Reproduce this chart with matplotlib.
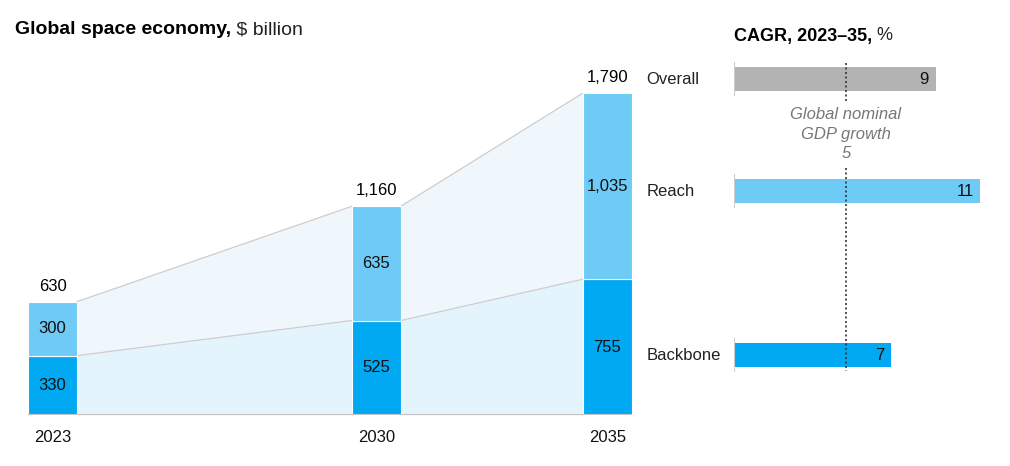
import matplotlib.pyplot as plt
import numpy as np
from matplotlib import rcParams

rcParams['font.family'] = ['Liberation Sans', 'DejaVu Sans']

# data
years = [2023, 2030, 2035]
backbone = [330, 525, 755]
reach = [300, 635, 1035]
totals = [630, 1160, 1790]
total_labels = ['630', '1,160', '1,790']
reach_labels = ['300', '635', '1,035']
backbone_labels = ['330', '525', '755']

cagr_names = ['Overall', 'Reach', 'Backbone']
cagr_values = [9, 11, 7]
gdp_growth = 5

# colours
c_reach = '#6ecbf6'
c_backbone = '#00a9f2'
c_overall = '#b3b3b3'
c_area_top = '#eff7fd'
c_area_low = '#e3f4fd'
c_line = '#cccccc'
c_text = '#111111'

W, H = 1010, 466
fig = plt.figure(figsize=(W / 100, H / 100), dpi=100)

# ---- left: stacked bars with connecting areas
bw = 1.06
ax = fig.add_axes([28 / W, (H - 415) / H, (632 - 28) / W, (415 - 93) / H])
ax.set_xlim(years[0] - bw / 2, years[-1] + bw / 2)
ax.set_ylim(0, totals[-1])
ax.axis('off')

ax.bar(years, backbone, width=bw, color=c_backbone, edgecolor='white', linewidth=0.8, zorder=3)
ax.bar(years, reach, width=bw, bottom=backbone, color=c_reach, edgecolor='white', linewidth=0.8, zorder=3)

for i in range(len(years) - 1):
    xs = [years[i] + bw / 2, years[i + 1] - bw / 2]
    lo = [backbone[i], backbone[i + 1]]
    hi = [totals[i], totals[i + 1]]
    ax.fill_between(xs, 0, lo, color=c_area_low, linewidth=0, zorder=1)
    ax.fill_between(xs, lo, hi, color=c_area_top, linewidth=0, zorder=1)
    ax.plot(xs, lo, color=c_line, lw=0.9, zorder=2)
    ax.plot(xs, hi, color=c_line, lw=0.9, zorder=2)

ax.axhline(0, color='#c4c4c4', lw=1.5, zorder=4)

for x, b, r, t, tl, rl, bl in zip(years, backbone, reach, totals, total_labels, reach_labels, backbone_labels):
    ax.text(x, b / 2, bl, ha='center', va='center', fontsize=12, color=c_text, zorder=5)
    ax.text(x, b + r / 2, rl, ha='center', va='center', fontsize=12, color=c_text, zorder=5)
    ax.text(x, t + 45, tl, ha='center', va='bottom', fontsize=12, color='black', zorder=5)
    ax.text(x, -85, str(x), ha='center', va='top', fontsize=12, color=c_text)

t1 = fig.text(15 / W, 1 - 30 / H, 'Global space economy,', fontsize=14, fontweight='bold',
              va='center', ha='left')
ax.annotate(' $ billion', xy=(1, 0.5), xycoords=t1, va='center', ha='left', fontsize=14,
            color='#222222', annotation_clip=False)

# ---- right: CAGR bars
row_y = [79, 191, 355]
bar_h = 24
ax2 = fig.add_axes([734 / W, 0, 12 * 22.4 / W, 1])
ax2.set_xlim(0, 12)
ax2.set_ylim(H, 0)
ax2.axis('off')

colors = [c_overall, c_reach, c_backbone]
ax2.barh(row_y, cagr_values, height=bar_h, color=colors, zorder=2)
for y, v, n in zip(row_y, cagr_values, cagr_names):
    ax2.plot([0, 0], [y - bar_h / 2 - 4, y + bar_h / 2 + 4], color='#cccccc', lw=1.5, zorder=3)
    ax2.text(v - 0.3, y, str(v), ha='right', va='center', fontsize=12, color=c_text, zorder=4)
    ax2.text(-3.9, y, n, ha='left', va='center', fontsize=12, color='#222222')

ax2.plot([gdp_growth, gdp_growth], [63, 101], color='#333333', lw=1.2, ls=(0, (1.2, 1.5)), zorder=5)
ax2.plot([gdp_growth, gdp_growth], [168, 371], color='#333333', lw=1.2, ls=(0, (1.2, 1.5)), zorder=5)
ax2.text(gdp_growth, 134, 'Global nominal\nGDP growth\n' + str(gdp_growth), ha='center', va='center',
         fontsize=12, style='italic', color='#777777', linespacing=1.4)

t2 = fig.text(734 / W, 1 - 36 / H, 'CAGR, 2023\u201335,', fontsize=13, fontweight='bold',
              va='center', ha='left')
ax2.annotate(' %', xy=(1, 0.5), xycoords=t2, va='center', ha='left', fontsize=13,
             color='#222222', annotation_clip=False)

fig.savefig('out.png', dpi=100)
